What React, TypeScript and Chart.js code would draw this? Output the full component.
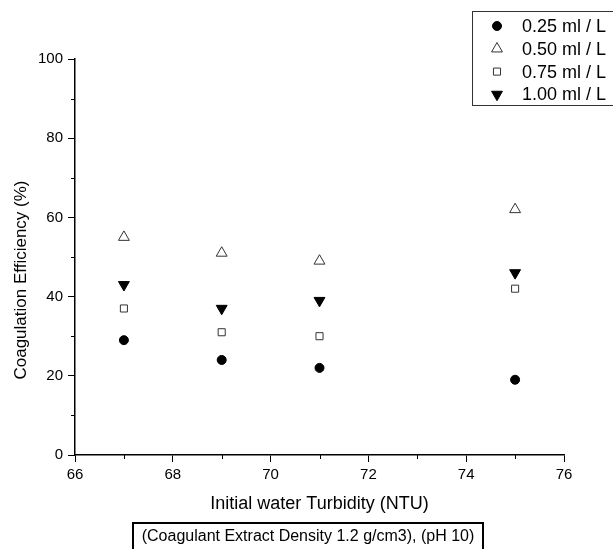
import React, { useEffect, useRef } from 'react';
import { Chart, registerables } from 'chart.js';
import { drawPoint } from 'chart.js/helpers';

Chart.register(...registerables);

const turbidity = [67, 69, 71, 75];
const dose025 = [29, 24, 22, 19];
const dose050 = [55, 51, 49, 62];
const dose075 = [37, 31, 30, 42];
const dose100 = [43, 37, 39, 46];
const seriesLabels = ['0.25 ml / L', '0.50 ml / L', '0.75 ml / L', '1.00 ml / L'];
const xTitle = 'Initial water Turbidity (NTU)';
const yTitle = 'Coagulation Efficiency (%)';
const noteText = '(Coagulant Extract Density 1.2 g/cm3), (pH 10)';
const xMinorTicks = [67, 69, 71, 73, 75];
const yMinorTicks = [10, 30, 50, 70, 90];

const FONT = "'Liberation Sans', Arial, sans-serif";

const toPoints = (ys: number[]) => turbidity.map((x, i) => ({ x, y: ys[i] }));

const minorTicksPlugin = {
  id: 'minorTicks',
  afterDraw(chart: any) {
    const { ctx, scales, chartArea } = chart;
    ctx.save();
    ctx.strokeStyle = '#000';
    ctx.lineWidth = 1;
    ctx.beginPath();
    xMinorTicks.forEach((v) => {
      const px = Math.round(scales.x.getPixelForValue(v)) + 0.5;
      ctx.moveTo(px, chartArea.bottom);
      ctx.lineTo(px, chartArea.bottom + 4);
    });
    yMinorTicks.forEach((v) => {
      const py = Math.round(scales.y.getPixelForValue(v)) + 0.5;
      ctx.moveTo(chartArea.left, py);
      ctx.lineTo(chartArea.left - 4, py);
    });
    ctx.stroke();
    ctx.restore();
  },
};

const yTitlePlugin = {
  id: 'yTitle',
  afterDraw(chart: any) {
    const { ctx } = chart;
    ctx.save();
    ctx.translate(21, 280);
    ctx.rotate(-Math.PI / 2);
    ctx.font = `17px ${FONT}`;
    ctx.textAlign = 'center';
    ctx.textBaseline = 'middle';
    ctx.fillStyle = '#000';
    ctx.fillText(yTitle, 0, 0);
    ctx.restore();
  },
};

const legendBoxPlugin = {
  id: 'legendBox',
  afterDraw(chart: any) {
    const { ctx } = chart;
    ctx.save();
    ctx.strokeStyle = '#333';
    ctx.lineWidth = 1;
    ctx.strokeRect(472.5, 11.5, 160, 94);
    ctx.font = `18px ${FONT}`;
    ctx.textBaseline = 'middle';
    ctx.textAlign = 'left';
    chart.data.datasets.forEach((ds: any, i: number) => {
      const y = 26 + i * 22.8;
      ctx.fillStyle = ds.backgroundColor;
      ctx.strokeStyle = ds.borderColor;
      ctx.lineWidth = ds.borderWidth;
      drawPoint(ctx, { pointStyle: ds.pointStyle, rotation: ds.rotation || 0, radius: ds.pointRadius, borderWidth: ds.borderWidth }, 497, y);
      ctx.fillStyle = '#000';
      ctx.fillText(ds.label, 522, y + 1);
    });
    ctx.restore();
  },
};

const noteBoxPlugin = {
  id: 'noteBox',
  afterDraw(chart: any) {
    const { ctx } = chart;
    ctx.save();
    ctx.strokeStyle = '#000';
    ctx.lineWidth = 2;
    ctx.strokeRect(133, 523, 350, 30);
    ctx.font = `16px ${FONT}`;
    ctx.textBaseline = 'middle';
    ctx.textAlign = 'center';
    ctx.fillStyle = '#000';
    ctx.fillText(noteText, 308, 537);
    ctx.restore();
  },
};

export default function App() {
  const ref = useRef<HTMLCanvasElement>(null);
  useEffect(() => {
    if (!ref.current) return;
    const chart = new Chart(ref.current, {
      type: 'scatter',
      data: {
        datasets: [
          {
            label: seriesLabels[0],
            data: toPoints(dose025),
            pointStyle: 'circle',
            pointRadius: 4.5,
            backgroundColor: '#000',
            borderColor: '#000',
            borderWidth: 1,
          },
          {
            label: seriesLabels[1],
            data: toPoints(dose050),
            pointStyle: 'triangle',
            pointRadius: 6.3,
            backgroundColor: 'rgba(0,0,0,0)',
            borderColor: '#333',
            borderWidth: 1,
          },
          {
            label: seriesLabels[2],
            data: toPoints(dose075),
            pointStyle: 'rect',
            pointRadius: 5,
            backgroundColor: 'rgba(0,0,0,0)',
            borderColor: '#333',
            borderWidth: 1,
          },
          {
            label: seriesLabels[3],
            data: toPoints(dose100),
            pointStyle: 'triangle',
            rotation: 180,
            pointRadius: 6.3,
            backgroundColor: '#000',
            borderColor: '#000',
            borderWidth: 1,
          },
        ] as any,
      },
      options: {
        responsive: false,
        animation: false,
        layout: { padding: { left: 0, right: 49, top: 59, bottom: 34 } },
        plugins: { legend: { display: false }, tooltip: { enabled: false } },
        scales: {
          x: {
            type: 'linear',
            min: 66,
            max: 76,
            afterFit: (s: any) => { s.height = 60; },
            ticks: { stepSize: 2, padding: 4, color: '#000', font: { size: 15, family: FONT } },
            grid: { drawOnChartArea: false, drawTicks: true, tickLength: 7, color: '#000', tickWidth: 1 },
            border: { display: true, color: '#000', width: 1.5 },
            title: { display: true, text: xTitle, color: '#000', font: { size: 18, family: FONT }, padding: { top: 0, bottom: 0 } },
          },
          y: {
            type: 'linear',
            min: 0,
            max: 100,
            afterFit: (s: any) => { s.width = 75; },
            ticks: { stepSize: 20, padding: 5, color: '#000', font: { size: 15, family: FONT } },
            grid: { drawOnChartArea: false, drawTicks: true, tickLength: 7, color: '#000', tickWidth: 1 },
            border: { display: true, color: '#000', width: 1.5 },
            title: { display: false },
          },
        },
      } as any,
      plugins: [minorTicksPlugin, yTitlePlugin, legendBoxPlugin, noteBoxPlugin],
    });
    return () => chart.destroy();
  }, []);
  return (
    <div style={{ position: 'absolute', left: 0, top: 0, width: 613, height: 549, background: '#fff' }}>
      <canvas ref={ref} width={613} height={549} />
    </div>
  );
}
